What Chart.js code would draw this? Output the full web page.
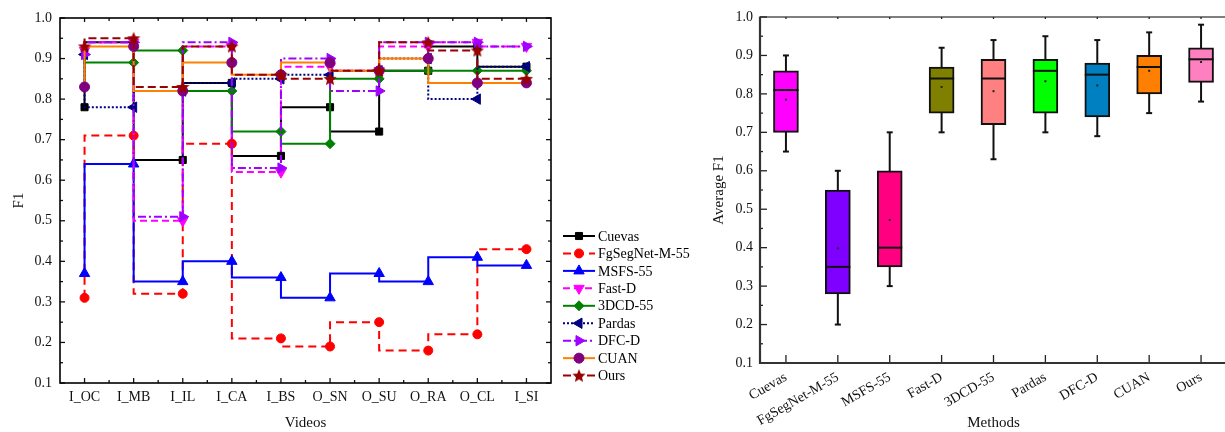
<!DOCTYPE html>
<html><head><meta charset="utf-8">
<script src="https://cdn.jsdelivr.net/npm/chart.js@4.4.1/dist/chart.umd.min.js"></script>
<style>
html,body{margin:0;padding:0;overflow:hidden;background:#fff;width:1225px;height:432px;}
#c1{position:absolute;left:0;top:0;}
#c2{position:absolute;left:700px;top:0;}
</style></head><body>
<canvas id="c1" width="700" height="432"></canvas>
<canvas id="c2" width="530" height="432"></canvas>
<script>
// ---------- Left chart data ----------
const videos   = ['I_OC','I_MB','I_IL','I_CA','I_BS','O_SN','O_SU','O_RA','O_CL','I_SI'];
const cuevas   = [0.78,0.94,0.65,0.84,0.66,0.78,0.72,0.87,0.93,0.88];
const fgSegNet = [0.31,0.71,0.32,0.69,0.21,0.19,0.25,0.18,0.22,0.43];
const msfs     = [0.37,0.64,0.35,0.40,0.36,0.31,0.37,0.35,0.41,0.39];
const fastD    = [0.92,0.94,0.50,0.93,0.62,0.88,0.87,0.93,0.94,0.93];
const dcd      = [0.91,0.89,0.92,0.82,0.72,0.69,0.85,0.87,0.87,0.87];
const pardas   = [0.91,0.78,0.82,0.84,0.85,0.86,0.87,0.90,0.80,0.88];
const dfcD     = [0.91,0.94,0.51,0.94,0.63,0.90,0.82,0.94,0.94,0.93];
const cuan     = [0.83,0.93,0.82,0.89,0.86,0.89,0.87,0.90,0.84,0.84];
const ours     = [0.93,0.95,0.83,0.93,0.86,0.85,0.87,0.94,0.92,0.85];

// ---------- Right chart data ----------
const methods     = ['Cuevas','FgSegNet-M-55','MSFS-55','Fast-D','3DCD-55','Pardas','DFC-D','CUAN','Ours'];
const boxQ1       = [0.70,0.28,0.35,0.75,0.72,0.75,0.74,0.80,0.83];
const boxQ3       = [0.86,0.55,0.60,0.87,0.89,0.89,0.88,0.90,0.92];
const medians     = [0.81,0.35,0.40,0.84,0.84,0.86,0.85,0.87,0.89];
const whiskerLow  = [0.65,0.20,0.30,0.70,0.63,0.70,0.69,0.75,0.78];
const whiskerHigh = [0.90,0.60,0.70,0.92,0.94,0.95,0.94,0.96,0.98];
const means       = [0.785,0.398,0.472,0.818,0.807,0.833,0.822,0.860,0.883];
const boxColors   = ['#ff00ff','#8000ff','#ff0080','#808000','#ff8080','#00ff00','#0080c0','#ff8000','#ff80c0'];

const FONT = "'Liberation Serif','Times New Roman',serif";

function makeStar(size, color){
  const c=document.createElement('canvas'); c.width=c.height=size;
  const g=c.getContext('2d'); g.fillStyle=color; g.beginPath();
  const cx=size/2, cy=size/2+0.5, R=size/2, r=R*0.45;
  for(let i=0;i<10;i++){const a=-Math.PI/2+i*Math.PI/5; const rr=i%2?r:R; g.lineTo(cx+rr*Math.cos(a), cy+rr*Math.sin(a));}
  g.closePath(); g.fill(); return c;
}
const starImg = makeStar(14,'#990000');

const seriesStyle = [
  {label:'Cuevas', data:cuevas, line:'#000000', dash:[], ps:'rect', r:5, rot:0, pc:'#000000'},
  {label:'FgSegNet-M-55', data:fgSegNet, line:'#ff0000', dash:[8,5], ps:'circle', r:4.5, rot:0, pc:'#ff0000'},
  {label:'MSFS-55', data:msfs, line:'#0000ff', dash:[], ps:'triangle', r:6, rot:0, pc:'#0000ff'},
  {label:'Fast-D', data:fastD, line:'#ff00ff', dash:[7,4], ps:'triangle', r:6, rot:180, pc:'#ff00ff'},
  {label:'3DCD-55', data:dcd, line:'#008000', dash:[], ps:'rectRot', r:5, rot:0, pc:'#008000'},
  {label:'Pardas', data:pardas, line:'#000080', dash:[2,2], ps:'triangle', r:6, rot:-90, pc:'#000080'},
  {label:'DFC-D', data:dfcD, line:'#a000ff', dash:[8,3,2,3], ps:'triangle', r:6, rot:90, pc:'#a000ff'},
  {label:'CUAN', data:cuan, line:'#ff8000', dash:[], ps:'circle', r:5, rot:0, pc:'#800080'},
  {label:'Ours', data:ours, line:'#990000', dash:[8,4], ps:starImg, r:7, rot:0, pc:'#990000'}
];

function line(ctx,x1,y1,x2,y2){ctx.beginPath();ctx.moveTo(x1,y1);ctx.lineTo(x2,y2);ctx.stroke();}

const leftTicks = {
  id:'leftTicks',
  afterDatasetsDraw(chart){
    const {ctx, chartArea:a, scales:{x,y}} = chart;
    ctx.save(); ctx.strokeStyle='#111'; ctx.lineWidth=1.3; ctx.setLineDash([]);
    const yt = y.ticks.map(t=>t.value);
    yt.forEach((v,i)=>{
      const py=y.getPixelForValue(v);
      line(ctx,a.left,py,a.left+5,py); line(ctx,a.right,py,a.right-5,py);
      if(i<yt.length-1){const pm=y.getPixelForValue((v+yt[i+1])/2);
        line(ctx,a.left,pm,a.left+3,pm); line(ctx,a.right,pm,a.right-3,pm);}
    });
    const n=x.ticks.length;
    for(let i=0;i<n;i++){
      const px=x.getPixelForTick(i);
      line(ctx,px,a.bottom,px,a.bottom-5); line(ctx,px,a.top,px,a.top+4);
      if(i<n-1){const pm=(px+x.getPixelForTick(i+1))/2;
        line(ctx,pm,a.bottom,pm,a.bottom-3); line(ctx,pm,a.top,pm,a.top+3);}
    }
    ctx.lineWidth=1.6; ctx.strokeStyle='#000';
    ctx.strokeRect(a.left,a.top,a.right-a.left,a.bottom-a.top);
    ctx.restore();
  },
  afterDraw(chart){
    const ctx=chart.ctx; ctx.save();
    const x0=563, x1=595, y0=236, dy=17.45;
    ctx.font="14px "+FONT; ctx.textBaseline='middle'; ctx.textAlign='left';
    seriesStyle.forEach((s,i)=>{
      const yy=y0+i*dy;
      ctx.strokeStyle=s.line; ctx.lineWidth=2; ctx.setLineDash(s.dash);
      line(ctx,x0,yy,x1,yy);
      ctx.setLineDash([]);
      ctx.fillStyle=s.pc; ctx.strokeStyle=s.pc; ctx.lineWidth=1;
      Chart.helpers.drawPoint(ctx,{pointStyle:s.ps,radius:s.r,rotation:s.rot,borderWidth:1},(x0+x1)/2,yy);
      ctx.fillStyle='#000';
      ctx.fillText(s.label,x1+3,yy+1);
    });
    ctx.restore();
  }
};

new Chart(document.getElementById('c1'),{
  type:'line',
  data:{labels:videos, datasets:seriesStyle.map((s,i)=>({
    label:s.label, data:s.data, stepped:'after',
    borderColor:s.line, borderWidth:2, borderDash:s.dash, fill:false,
    pointStyle:s.ps, pointRadius:s.r, pointRotation:s.rot,
    pointBackgroundColor:s.pc, pointBorderColor:s.pc, pointBorderWidth:1,
    order: seriesStyle.length - i
  }))},
  options:{
    responsive:false, animation:false, devicePixelRatio:1,
    layout:{padding:{top:18,right:149,bottom:0,left:0}},
    plugins:{legend:{display:false},tooltip:{enabled:false}},
    scales:{
      x:{type:'category', offset:true,
        grid:{display:false,drawTicks:false}, border:{display:false},
        ticks:{font:{family:FONT,size:14},color:'#111',padding:6,maxRotation:0,autoSkip:false},
        title:{display:true,text:'Videos',font:{family:FONT,size:15},color:'#111',padding:{top:0,bottom:0}},
        afterFit(s){s.height=49;}
      },
      y:{min:0.1,max:1.0,
        grid:{display:false,drawTicks:false}, border:{display:false},
        ticks:{stepSize:0.1,font:{family:FONT,size:14},color:'#111',padding:8,callback:v=>Number(v).toFixed(1)},
        title:{display:true,text:'F1',font:{family:FONT,size:15},color:'#111',padding:{top:10,bottom:0}},
        afterFit(s){s.width=60;}
      }
    }
  },
  plugins:[leftTicks]
});

// ---------- Right chart ----------
const boxPlugin = {
  id:'boxPlugin',
  beforeDatasetsDraw(chart){
    const {ctx, scales:{x,y}} = chart;
    ctx.save(); ctx.strokeStyle='#111'; ctx.lineWidth=2;
    methods.forEach((m,i)=>{
      const px=x.getPixelForValue(i);
      line(ctx,px,y.getPixelForValue(whiskerHigh[i]),px,y.getPixelForValue(whiskerLow[i]));
      line(ctx,px-3,y.getPixelForValue(whiskerHigh[i]),px+3,y.getPixelForValue(whiskerHigh[i]));
      line(ctx,px-3,y.getPixelForValue(whiskerLow[i]),px+3,y.getPixelForValue(whiskerLow[i]));
    });
    ctx.restore();
  },
  afterDatasetsDraw(chart){
    const {ctx, chartArea:a, scales:{x,y}} = chart;
    ctx.save(); ctx.strokeStyle='#111'; ctx.lineWidth=2;
    methods.forEach((m,i)=>{
      const px=x.getPixelForValue(i);
      const py=y.getPixelForValue(medians[i]);
      line(ctx,px-12.5,py,px+12.5,py);
      ctx.fillStyle='#222';
      ctx.fillRect(px-1,y.getPixelForValue(means[i])-1,2,2);
    });
    // axes
    ctx.strokeStyle='#555'; ctx.lineWidth=1.3;
    line(ctx,a.left,a.top,a.right,a.top);
    ctx.strokeStyle='#222'; ctx.lineWidth=1.3;
    const yt=y.ticks.map(t=>t.value);
    yt.forEach((v,i)=>{
      const py=y.getPixelForValue(v);
      line(ctx,a.left,py,a.left+7,py);
      if(i<yt.length-1){const pm=y.getPixelForValue((v+yt[i+1])/2); line(ctx,a.left,pm,a.left+3,pm);}
    });
    for(let i=0;i<x.ticks.length;i++){
      const px=x.getPixelForTick(i);
      line(ctx,px,a.bottom,px,a.bottom-8);
      line(ctx,px,a.top,px,a.top+2);
    }
    ctx.strokeStyle='#333'; ctx.lineWidth=2.2;
    line(ctx,a.left,a.top-0.5,a.left,a.bottom+1);
    line(ctx,a.left-1,a.bottom,a.right,a.bottom);
    ctx.restore();
  }
};

new Chart(document.getElementById('c2'),{
  type:'bar',
  data:{labels:methods, datasets:[{
    data:methods.map((m,i)=>[boxQ1[i],boxQ3[i]]),
    backgroundColor:boxColors, borderColor:'#111', borderWidth:2, borderSkipped:false,
    barThickness:25
  }]},
  options:{
    responsive:false, animation:false, devicePixelRatio:1,
    layout:{padding:{top:17,right:3,bottom:0,left:0}},
    plugins:{legend:{display:false},tooltip:{enabled:false}},
    scales:{
      x:{type:'category', offset:true,
        grid:{display:false,drawTicks:false}, border:{display:false},
        ticks:{font:{family:FONT,size:14},color:'#111',padding:6,minRotation:30,maxRotation:30,autoSkip:false},
        title:{display:true,text:'Methods',font:{family:FONT,size:15},color:'#111',padding:{top:0,bottom:0}},
        afterFit(s){s.height=69;}
      },
      y:{min:0.1,max:1.0,
        grid:{display:false,drawTicks:false}, border:{display:false},
        ticks:{stepSize:0.1,font:{family:FONT,size:14},color:'#111',padding:7,callback:v=>Number(v).toFixed(1)},
        title:{display:true,text:'Average F1',font:{family:FONT,size:15},color:'#111',padding:{top:10,bottom:0}},
        afterFit(s){s.width=60;}
      }
    }
  },
  plugins:[boxPlugin]
});
</script>
</body></html>
